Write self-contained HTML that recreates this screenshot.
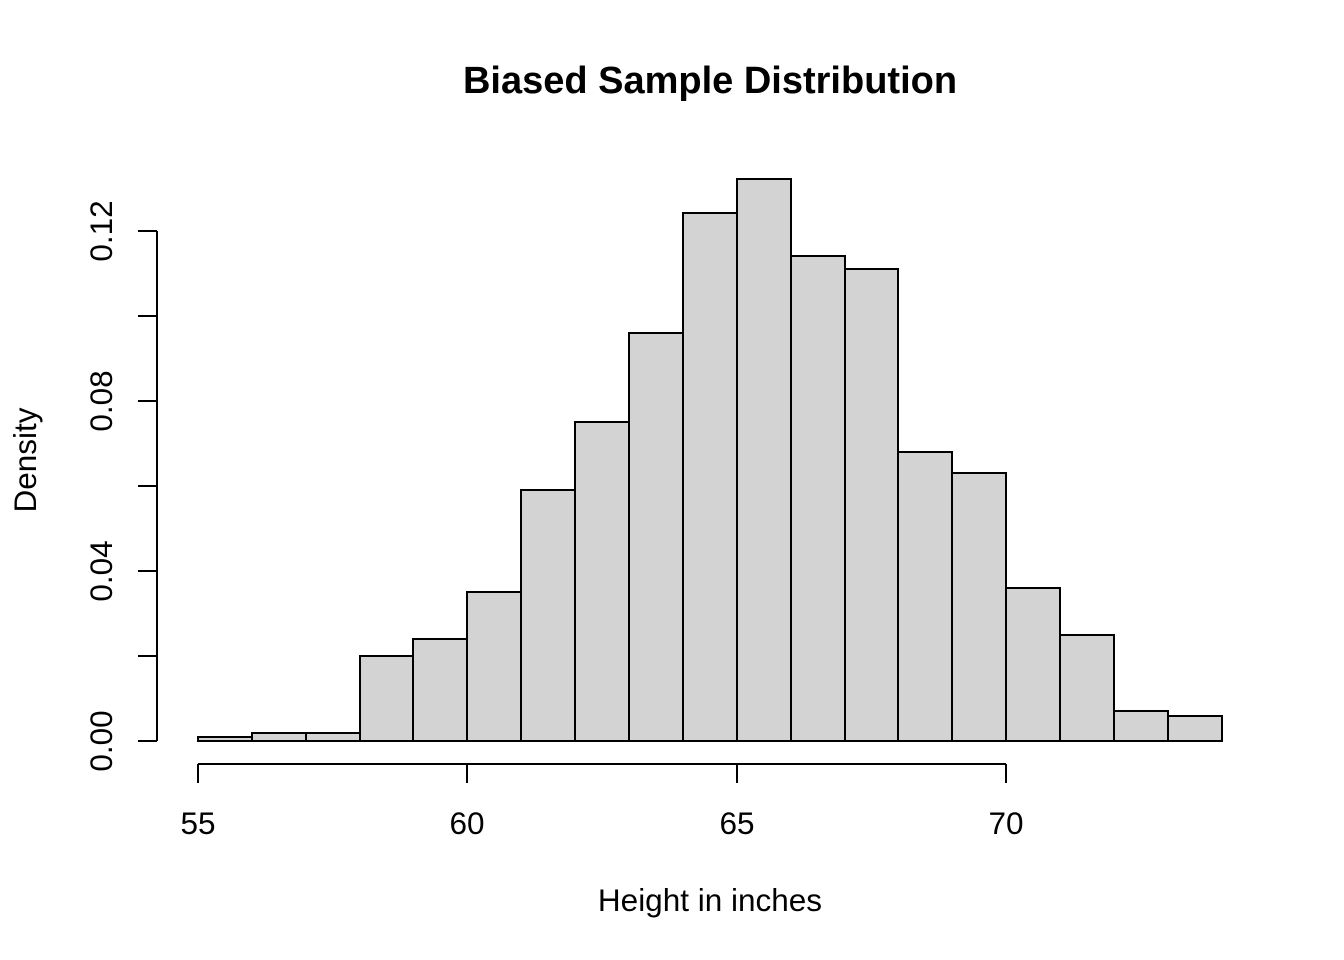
<!DOCTYPE html>
<html><head><meta charset="utf-8"><style>html,body{margin:0;padding:0;background:#fff}svg{display:block}</style></head>
<body>
<svg width="1344" height="960" xmlns="http://www.w3.org/2000/svg" font-family="Liberation Sans, sans-serif">
<rect width="1344" height="960" fill="#fff"/>
<text x="710" y="93" font-size="38" font-weight="bold" text-anchor="middle">Biased Sample Distribution</text>
<g fill="#d3d3d3" stroke="#000" stroke-width="2">
<rect x="198" y="737" width="54" height="4"/>
<rect x="252" y="733" width="54" height="8"/>
<rect x="306" y="733" width="54" height="8"/>
<rect x="360" y="656" width="53" height="85"/>
<rect x="413" y="639" width="54" height="102"/>
<rect x="467" y="592" width="54" height="149"/>
<rect x="521" y="490" width="54" height="251"/>
<rect x="575" y="422" width="54" height="319"/>
<rect x="629" y="333" width="54" height="408"/>
<rect x="683" y="213" width="54" height="528"/>
<rect x="737" y="179" width="54" height="562"/>
<rect x="791" y="256" width="54" height="485"/>
<rect x="845" y="269" width="53" height="472"/>
<rect x="898" y="452" width="54" height="289"/>
<rect x="952" y="473" width="54" height="268"/>
<rect x="1006" y="588" width="54" height="153"/>
<rect x="1060" y="635" width="54" height="106"/>
<rect x="1114" y="711" width="54" height="30"/>
<rect x="1168" y="716" width="54" height="25"/>
</g>
<g stroke="#000" stroke-width="2" fill="none">
<path d="M157 231V741"/>
<path d="M138 231H157M138 316H157M138 401H157M138 486H157M138 571H157M138 656H157M138 741H157"/>
<path d="M198 764H1006"/>
<path d="M198 764V783M467 764V783M737 764V783M1006 764V783"/>
</g>
<g font-size="31.5" text-anchor="middle">
<text x="198" y="834">55</text>
<text x="467" y="834">60</text>
<text x="737" y="834">65</text>
<text x="1006" y="834">70</text>
<text x="710" y="911">Height in inches</text>
</g>
<g font-size="31.5" text-anchor="middle">
<text transform="translate(112,741) rotate(-90)">0.00</text>
<text transform="translate(112,571) rotate(-90)">0.04</text>
<text transform="translate(112,401) rotate(-90)">0.08</text>
<text transform="translate(112,231) rotate(-90)">0.12</text>
<text transform="translate(36,460) rotate(-90)">Density</text>
</g>
</svg>
</body></html>
